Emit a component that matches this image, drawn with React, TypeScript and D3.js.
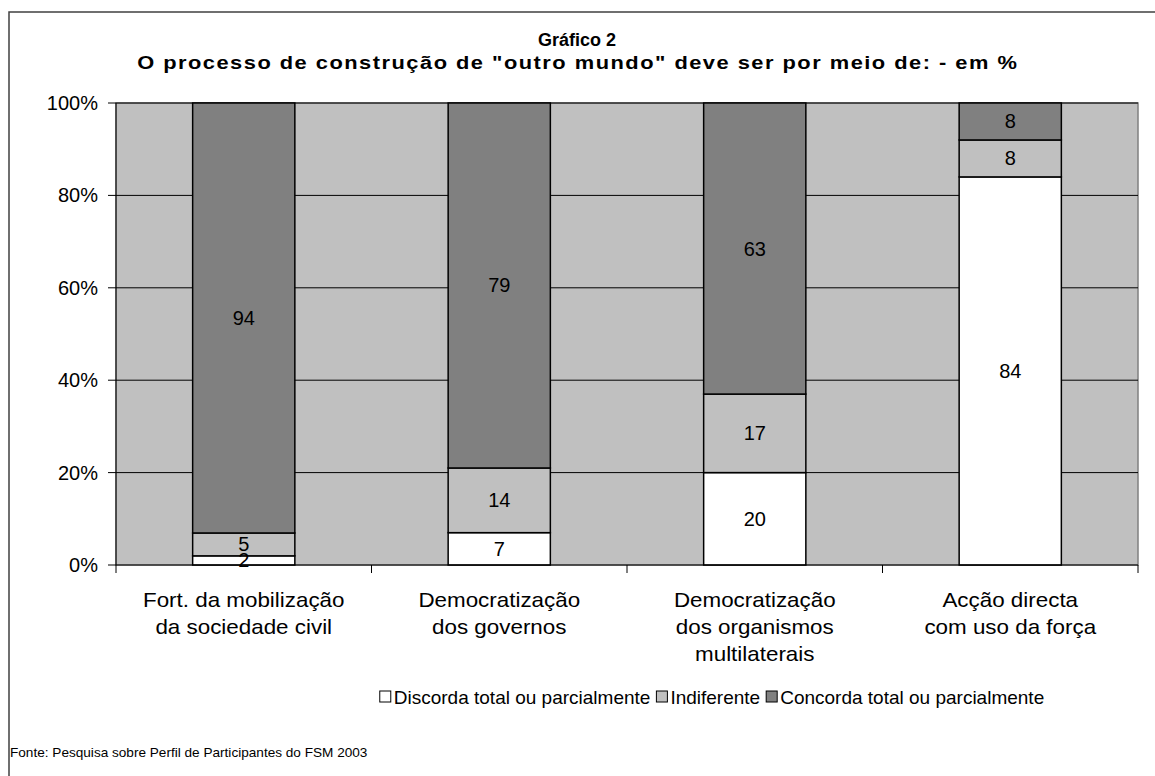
import React from 'react';
import * as d3 from 'd3';

const categories = [
  ['Fort. da mobilização', 'da sociedade civil'],
  ['Democratização', 'dos governos'],
  ['Democratização', 'dos organismos', 'multilaterais'],
  ['Acção directa', 'com uso da força'],
];
const seriesNames = ['Discorda total ou parcialmente', 'Indiferente', 'Concorda total ou parcialmente'];
const discorda = [2, 7, 20, 84];
const indiferente = [5, 14, 17, 8];
const concorda = [94, 79, 63, 8];
const yTicks = [0, 0.2, 0.4, 0.6, 0.8, 1];
const colors = ['#FFFFFF', '#C0C0C0', '#808080'];

const W = 1155;
const H = 776;
const margin = { left: 116, right: 17, top: 103, bottom: 211 };
const font = '"Liberation Sans", Arial, sans-serif';

function measure(text: string, size: number) {
  const ctx = document.createElement('canvas').getContext('2d');
  if (!ctx) return text.length * size * 0.5;
  ctx.font = `${size}px ${font}`;
  return ctx.measureText(text).width;
}

export default function App() {
  const rows = categories.map((c, i) => ({ i, s0: discorda[i], s1: indiferente[i], s2: concorda[i] }));
  const stack = d3.stack<any>().keys(['s0', 's1', 's2']).offset(d3.stackOffsetExpand);
  const layers = stack(rows);

  const x = d3.scaleBand<number>()
    .domain(rows.map(r => r.i))
    .range([margin.left, W - margin.right])
    .paddingInner(0.6)
    .paddingOuter(0.3);
  const step = x.step();
  const y = d3.scaleLinear().domain([0, 1]).range([H - margin.bottom, margin.top]);
  const x0 = margin.left;
  const x1 = W - margin.right;
  const yBottom = y(0);

  // legend layout
  const legSize = 19;
  const widths = seriesNames.map(n => measure(n, legSize));
  const itemW = widths.map(w => 14 + w);
  const legTotal = d3.sum(itemW) + 6 * (seriesNames.length - 1);
  let lx = 712 - legTotal / 2;
  const legItems = seriesNames.map((n, i) => {
    const pos = lx;
    lx += itemW[i] + 6;
    return { n, pos, i };
  });

  return (
    <svg width={W} height={H} style={{ position: 'absolute', left: 0, top: 0 }} fontFamily={font}>
      <rect x={9} y={12} width={W + 20} height={H + 20} fill="#fff" stroke="#404040" strokeWidth={1.5} />
      <text x={577} y={46} textAnchor="middle" fontSize={18} fontWeight="bold">Gráfico 2</text>
      <g transform="translate(577,0) scale(1.15,1)">
        <text x={0} y={69} textAnchor="middle" fontSize={19} fontWeight="bold" textLength={765} lengthAdjust="spacing">
          O processo de construção de "outro mundo" deve ser por meio de: - em %
        </text>
      </g>

      <rect x={x0} y={y(1)} width={x1 - x0} height={yBottom - y(1)} fill="#C0C0C0" stroke="#808080" strokeWidth={1.5} />
      {yTicks.slice(1).map(t => (
        <line key={t} x1={x0} x2={x1} y1={y(t)} y2={y(t)} stroke="#000" strokeWidth={1} />
      ))}

      {layers.map((layer, li) => layer.map((d, ci) => (
        <rect key={`${li}-${ci}`} x={x(ci)} y={y(d[1])} width={x.bandwidth()} height={y(d[0]) - y(d[1])}
          fill={colors[li]} stroke="#000" strokeWidth={1.5} />
      )))}
      {layers.map((layer, li) => layer.map((d, ci) => (
        <text key={`t${li}-${ci}`} x={(x(ci) as number) + x.bandwidth() / 2} y={y((d[0] + d[1]) / 2)}
          dy="0.35em" textAnchor="middle" fontSize={20}>
          {[discorda, indiferente, concorda][li][ci]}
        </text>
      )))}

      {/* axes */}
      <line x1={x0} x2={x0} y1={y(1)} y2={yBottom} stroke="#000" strokeWidth={1} />
      <line x1={x0} x2={x1} y1={yBottom} y2={yBottom} stroke="#000" strokeWidth={1} />
      {yTicks.map(t => (
        <g key={t}>
          <line x1={x0 - 8} x2={x0} y1={y(t)} y2={y(t)} stroke="#000" />
          <text x={x0 - 18} y={y(t)} dy="0.35em" textAnchor="end" fontSize={20}>{d3.format('.0%')(t)}</text>
        </g>
      ))}
      {d3.range(5).map(k => (
        <line key={k} x1={x0 + k * step} x2={x0 + k * step} y1={yBottom} y2={yBottom + 8} stroke="#000" />
      ))}
      {categories.map((lines, ci) => (
        <g key={ci} transform={`translate(${(x(ci) as number) + x.bandwidth() / 2},0) scale(1.12,1)`}>
          <text x={0} y={607} textAnchor="middle" fontSize={20}>
            {lines.map((l, j) => (
              <tspan key={j} x={0} dy={j === 0 ? 0 : 27}>{l}</tspan>
            ))}
          </text>
        </g>
      ))}

      {/* legend */}
      {legItems.map(({ n, pos, i }) => (
        <g key={n}>
          <rect x={pos} y={691} width={11} height={11} fill={colors[i]} stroke="#000" strokeWidth={1} />
          <text x={pos + 14} y={704} fontSize={legSize}>{n}</text>
        </g>
      ))}

      <text x={10} y={757} fontSize={13.6}>Fonte: Pesquisa sobre Perfil de Participantes do FSM 2003</text>
    </svg>
  );
}
